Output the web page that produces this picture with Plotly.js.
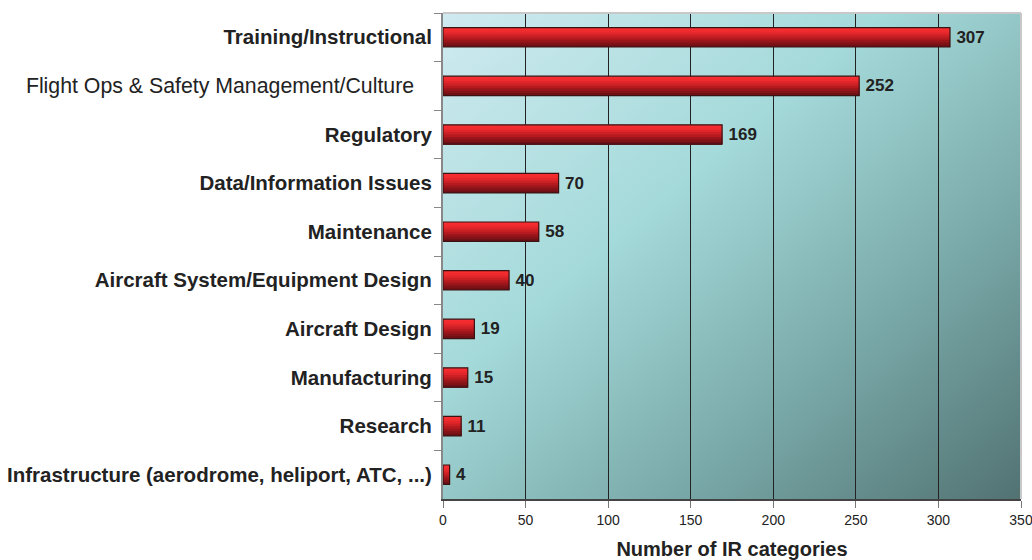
<!DOCTYPE html>
<html>
<head>
<meta charset="utf-8">
<script src="https://cdn.plot.ly/plotly-3.0.1.min.js"></script>
<style>html,body{margin:0;padding:0;background:#fff;}#chart{width:1032px;height:560px;}</style>
</head>
<body>
<div id="chart"></div>
<script>
// ---- data ----
const categories = [
  'Training/Instructional',
  'Flight Ops & Safety Management/Culture',
  'Regulatory',
  'Data/Information Issues',
  'Maintenance',
  'Aircraft System/Equipment Design',
  'Aircraft Design',
  'Manufacturing',
  'Research',
  'Infrastructure (aerodrome, heliport, ATC, ...)'
];
const counts = [307, 252, 169, 70, 58, 40, 19, 15, 11, 4];
const tickLabels = [
  '<b>Training/Instructional</b>',
  '<span style="font-size:21.3px">Flight Ops & Safety Management/Culture&nbsp;&nbsp;&nbsp;</span>',
  '<b>Regulatory</b>',
  '<b>Data/Information Issues</b>',
  '<b>Maintenance</b>',
  '<b>Aircraft System/Equipment Design</b>',
  '<b>Aircraft Design</b>',
  '<b>Manufacturing</b>',
  '<b>Research</b>',
  '<b>Infrastructure (aerodrome, heliport, ATC, ...)</b>'
];
const xTickVals = [0, 50, 100, 150, 200, 250, 300, 350];
const xTitle = 'Number of IR categories';

// ---- style ----
const FONT = 'Liberation Sans, Arial, sans-serif';
const barW = 0.4;
const stripColors = ['#f62e31','#f02b2e','#e0262a','#cb2024','#b41a1f','#9b161b','#841318','#6e1015'];

const traces = [];
const n = stripColors.length;
stripColors.forEach((c, i) => {
  // each strip runs from its own top edge to the bottom of the bar, later ones overlay earlier ones
  traces.push({
    type: 'bar', orientation: 'h',
    y: tickLabels, x: counts,
    width: barW - i * barW / n, offset: -barW / 2 + i * barW / n,
    marker: {color: c, line: {width: 0}},
    hoverinfo: 'skip', showlegend: false
  });
});
traces.push({
  type: 'bar', orientation: 'h',
  y: tickLabels, x: counts,
  width: barW, offset: -barW / 2,
  marker: {color: 'rgba(0,0,0,0)', line: {width: 1.2, color: '#3a1212'}},
  text: counts.map(String), textposition: 'outside', cliponaxis: false,
  textfont: {family: FONT, size: 17, color: '#222'},
  texttemplate: '\u2009<b>%{x}</b>',
  hovertext: categories, showlegend: false
});

const svg = "<svg xmlns='http://www.w3.org/2000/svg' viewBox='0 0 100 100' preserveAspectRatio='none'>" +
  "<defs><linearGradient id='g' x1='0' y1='0' x2='1' y2='1'>" +
  "<stop offset='0' stop-color='#cfeaf0'/><stop offset='0.38' stop-color='#a5dada'/>" +
  "<stop offset='0.7' stop-color='#79a8a8'/><stop offset='1' stop-color='#527272'/>" +
  "</linearGradient></defs><rect x='0' y='0' width='100' height='100' fill='url(#g)'/></svg>";
const bgSrc = 'data:image/svg+xml;base64,' + btoa(svg);

const layout = {
  width: 1032, height: 560,
  margin: {l: 443, r: 11, t: 13, b: 61, pad: 0},
  paper_bgcolor: '#ffffff', plot_bgcolor: 'rgba(0,0,0,0)',
  barmode: 'overlay',
  font: {family: FONT, color: '#222'},
  images: [{source: bgSrc, xref: 'paper', yref: 'paper', x: 0, y: 1, sizex: 1, sizey: 1,
            xanchor: 'left', yanchor: 'top', sizing: 'stretch', layer: 'below'}],
  xaxis: {
    range: [0, 350], tickvals: xTickVals, ticks: 'outside', ticklen: 7, tickcolor: '#777',
    tickfont: {family: FONT, size: 14, color: '#222'}, ticklabeloverflow: 'allow',
    showgrid: true, gridcolor: '#222', gridwidth: 1,
    showline: true, linecolor: '#444', linewidth: 2, zeroline: false,
    title: {text: '<b>' + xTitle + '</b>', font: {family: FONT, size: 20, color: '#222'}, standoff: 15}
  },
  yaxis: {
    type: 'category', autorange: 'reversed', categoryorder: 'array', categoryarray: tickLabels,
    ticks: 'outside', ticklen: 7, tickcolor: '#888', tickson: 'boundaries',
    tickfont: {family: FONT, size: 20.5, color: '#222'},
    showgrid: false, showline: true, linecolor: '#888', linewidth: 2, zeroline: false,
    ticklabelstandoff: 5
  },
  shapes: [
    {type: 'line', xref: 'paper', yref: 'paper', x0: 0, x1: 1, y0: 1, y1: 1, line: {color: '#c8c8c8', width: 2}},
    {type: 'line', xref: 'paper', yref: 'paper', x0: 1, x1: 1, y0: 0, y1: 1, line: {color: '#c8c8c8', width: 2}}
  ]
};

Plotly.newPlot('chart', traces, layout, {displayModeBar: false, staticPlot: true});
</script>
</body>
</html>
